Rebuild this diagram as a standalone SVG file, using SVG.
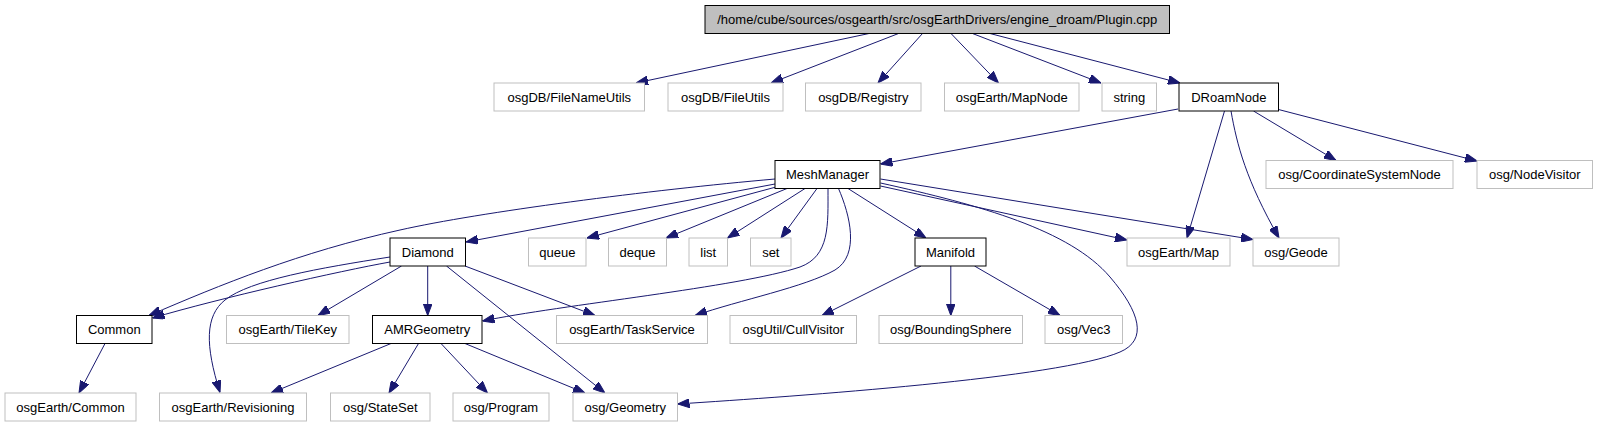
<svg xmlns="http://www.w3.org/2000/svg" width="1597" height="427" viewBox="0 0 1597 427">
<style>
text{font-family:"Liberation Sans",Arial,Helvetica,sans-serif;font-size:13px;fill:#000;text-anchor:middle}
.doc{fill:#fff;stroke:#000;stroke-width:1}
.und{fill:#fff;stroke:#bfbfbf;stroke-width:1}
.root{fill:#bfbfbf;stroke:#000;stroke-width:1}
.e{fill:none;stroke:#191970;stroke-width:1;marker-end:url(#ah)}
</style>
<defs>
<marker id="ah" markerUnits="userSpaceOnUse" markerWidth="12" markerHeight="9" refX="12" refY="4.5" orient="auto">
<path d="M0,0 L12,4.5 L0,9 z" fill="#191970" stroke="#191970" stroke-width="1"/>
</marker>
</defs>
<rect width="1597" height="427" fill="#fff"/>
<g id="connectors">
<path class="e" d="M869,33.5 L636,83"/>
<path class="e" d="M898.5,33.5 L771,83"/>
<path class="e" d="M922.5,33.5 L878,83"/>
<path class="e" d="M951,33.5 L998.5,83"/>
<path class="e" d="M972.5,33.5 L1101,83"/>
<path class="e" d="M990,33.5 L1180,83"/>
<path class="e" d="M1178,109 L880.5,164"/>
<path class="e" d="M1224.5,111 L1187,238"/>
<path class="e" d="M1231,111 C1237,145 1246,180 1279,238"/>
<path class="e" d="M1253.5,111 L1336,160.5"/>
<path class="e" d="M1278.5,109.5 L1477,161"/>
<path class="e" d="M775,179 C650,190 480,212 400,230 C300,252 220,285 149,315.5"/>
<path class="e" d="M775,184 L466,242"/>
<path class="e" d="M776,187 L587,238"/>
<path class="e" d="M787,188.5 L666,238"/>
<path class="e" d="M805,188.5 L727.5,238"/>
<path class="e" d="M817,188.5 L781,238"/>
<path class="e" d="M828,188.5 C828,225 830,256 800,267 C740,287 560,305 482.5,321"/>
<path class="e" d="M838.5,188.5 C850,215 860,255 835,270 C805,287 740,300 695,315.5"/>
<path class="e" d="M848,188.5 L926,238"/>
<path class="e" d="M880.5,186 L1127,240"/>
<path class="e" d="M880.5,179 L1253,239.5"/>
<path class="e" d="M880.5,183 C980,205 1070,230 1110,277 C1140,312 1148,340 1120,352 C1060,378 800,396 677.5,404"/>
<path class="e" d="M390,262 C340,271 220,298 152.5,318"/>
<path class="e" d="M390,257 C320,268 250,280 225,300 C205,316 205,345 220,392.5"/>
<path class="e" d="M401.5,266 L318,315.5"/>
<path class="e" d="M427.7,266 L427.7,315.5"/>
<path class="e" d="M465,266 L595,315.5"/>
<path class="e" d="M446.5,266 L605,393"/>
<path class="e" d="M391,343.5 L271,393"/>
<path class="e" d="M418.5,343.5 L389,393"/>
<path class="e" d="M441,343.5 L487.5,393"/>
<path class="e" d="M465,343.5 L585,393"/>
<path class="e" d="M105,343.5 L79,393"/>
<path class="e" d="M921,266 L822,315.5"/>
<path class="e" d="M950.8,266 L950.8,315.5"/>
<path class="e" d="M974.5,266 L1060,315.5"/>
</g>
<g id="root"><rect class="root" x="705" y="5.5" width="464.5" height="28"/><text x="937.3" y="24">/home/cube/sources/osgearth/src/osgEarthDrivers/engine_droam/Plugin.cpp</text></g>
<g id="filenameutils"><rect class="und" x="494" y="83" width="150.5" height="28"/><text x="569.3" y="101.5">osgDB/FileNameUtils</text></g>
<g id="fileutils"><rect class="und" x="668" y="83" width="115" height="28"/><text x="725.5" y="101.5">osgDB/FileUtils</text></g>
<g id="registry"><rect class="und" x="805.5" y="83" width="115.5" height="28"/><text x="863.3" y="101.5">osgDB/Registry</text></g>
<g id="mapnode"><rect class="und" x="944.5" y="83" width="134.5" height="28"/><text x="1011.8" y="101.5">osgEarth/MapNode</text></g>
<g id="string"><rect class="und" x="1102" y="83" width="54.5" height="28"/><text x="1129.3" y="101.5">string</text></g>
<g id="droamnode"><rect class="doc" x="1179" y="83" width="99.5" height="28"/><text x="1228.8" y="101.5">DRoamNode</text></g>
<g id="meshmanager"><rect class="doc" x="775" y="160.5" width="105" height="28"/><text x="827.5" y="179">MeshManager</text></g>
<g id="coordsys"><rect class="und" x="1266" y="160.5" width="187" height="28"/><text x="1359.5" y="179">osg/CoordinateSystemNode</text></g>
<g id="nodevisitor"><rect class="und" x="1477" y="160.5" width="115.5" height="28"/><text x="1534.8" y="179">osg/NodeVisitor</text></g>
<g id="diamond"><rect class="doc" x="390" y="238" width="75.5" height="28"/><text x="427.8" y="256.5">Diamond</text></g>
<g id="queue"><rect class="und" x="528.5" y="238" width="57.5" height="28"/><text x="557.3" y="256.5">queue</text></g>
<g id="deque"><rect class="und" x="608.5" y="238" width="58" height="28"/><text x="637.5" y="256.5">deque</text></g>
<g id="list"><rect class="und" x="689" y="238" width="38.5" height="28"/><text x="708.3" y="256.5">list</text></g>
<g id="set"><rect class="und" x="750.5" y="238" width="40.5" height="28"/><text x="770.8" y="256.5">set</text></g>
<g id="manifold"><rect class="doc" x="915" y="238" width="71" height="28"/><text x="950.5" y="256.5">Manifold</text></g>
<g id="map"><rect class="und" x="1127" y="238" width="103" height="28"/><text x="1178.5" y="256.5">osgEarth/Map</text></g>
<g id="geode"><rect class="und" x="1253" y="238" width="86" height="28"/><text x="1296" y="256.5">osg/Geode</text></g>
<g id="common"><rect class="doc" x="76.5" y="315.5" width="75.5" height="28"/><text x="114.3" y="334">Common</text></g>
<g id="tilekey"><rect class="und" x="226.5" y="315.5" width="122.5" height="28"/><text x="287.8" y="334">osgEarth/TileKey</text></g>
<g id="amrgeometry"><rect class="doc" x="372.5" y="315.5" width="109.5" height="28"/><text x="427.3" y="334">AMRGeometry</text></g>
<g id="taskservice"><rect class="und" x="556.5" y="315.5" width="151" height="28"/><text x="632" y="334">osgEarth/TaskService</text></g>
<g id="cullvisitor"><rect class="und" x="730" y="315.5" width="126.5" height="28"/><text x="793.3" y="334">osgUtil/CullVisitor</text></g>
<g id="boundingsphere"><rect class="und" x="879" y="315.5" width="143.5" height="28"/><text x="950.8" y="334">osg/BoundingSphere</text></g>
<g id="vec3"><rect class="und" x="1045" y="315.5" width="77.5" height="28"/><text x="1083.8" y="334">osg/Vec3</text></g>
<g id="earthcommon"><rect class="und" x="5" y="393" width="131" height="28"/><text x="70.5" y="411.5">osgEarth/Common</text></g>
<g id="revisioning"><rect class="und" x="159.5" y="393" width="147" height="28"/><text x="233" y="411.5">osgEarth/Revisioning</text></g>
<g id="stateset"><rect class="und" x="330.5" y="393" width="99.5" height="28"/><text x="380.3" y="411.5">osg/StateSet</text></g>
<g id="program"><rect class="und" x="453" y="393" width="96" height="28"/><text x="501" y="411.5">osg/Program</text></g>
<g id="geometry"><rect class="und" x="573" y="393" width="104.5" height="28"/><text x="625.3" y="411.5">osg/Geometry</text></g>
</svg>
